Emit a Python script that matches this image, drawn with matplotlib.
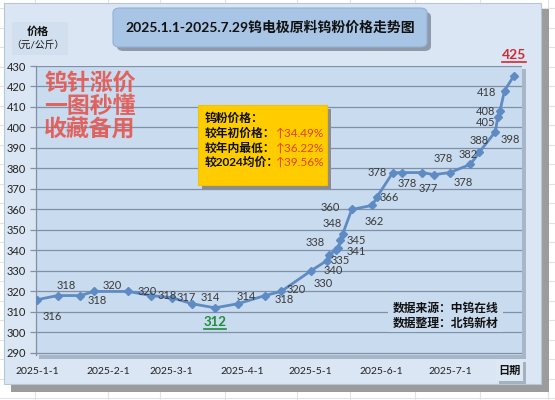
import numpy as np
import pandas as pd
import matplotlib
matplotlib.use('Agg')
import matplotlib.pyplot as plt
import matplotlib.dates as mdates
from matplotlib.patches import FancyBboxPatch, Rectangle
from matplotlib.lines import Line2D

plt.rcParams['font.family'] = ['Lato', 'Noto Sans CJK SC', 'DejaVu Sans']

# 钨粉价格（元/公斤）
dates = ['2025-01-01', '2025-01-10', '2025-01-20', '2025-01-26', '2025-02-10', '2025-02-20',
         '2025-03-01', '2025-03-10', '2025-03-20', '2025-03-30', '2025-04-11', '2025-04-18',
         '2025-05-01', '2025-05-08', '2025-05-09', '2025-05-12', '2025-05-13', '2025-05-14',
         '2025-05-15', '2025-05-19', '2025-05-28', '2025-05-30', '2025-06-06', '2025-06-10',
         '2025-06-19', '2025-06-24', '2025-07-01', '2025-07-10', '2025-07-14', '2025-07-21',
         '2025-07-22', '2025-07-23', '2025-07-25', '2025-07-29']
prices = [316, 318, 318, 320, 320, 318, 317, 314, 312, 314, 318, 320,
          330, 335, 338, 340, 341, 345, 348, 360, 362, 366, 378, 378,
          378, 377, 378, 382, 388, 398, 405, 408, 418, 425]

month_ticks = ['2025-01-01', '2025-02-01', '2025-03-01', '2025-04-01',
               '2025-05-01', '2025-06-01', '2025-07-01']
month_labels = ['2025-1-1', '2025-2-1', '2025-3-1', '2025-4-1',
                '2025-5-1', '2025-6-1', '2025-7-1']

title = '2025.1.1-2025.7.29钨电极原料钨粉价格走势图'
stat_names = ['较年初价格：', '较年内最低：', '较2024均价：']
stat_values = ['↑34.49%', '↑36.22%', '↑39.56%']

# label offsets in pixels (dx right, dy down)
label_off = [(15, 17), (9, -10), (17, 5), (18, -6), (19, 0), (16, 0),
             (15, 0), (18, -6), (0, 14), (8, -7), (19, 4), (15, -2),
             (12, 13), (14, 0), (-14, -12), (-3, 20), (18, 3), (16, 0),
             (-10, -11), (-22, -2), (2, 16), (12, 0), (-16, 0), (5, 11),
             (21, -14), (-6, 14), (13, 10), (-2, -10), (0, -12), (15, 8),
             (-12, 5), (-14, 0), (-18, 2), (0, -21)]

W, H = 555, 400
fig = plt.figure(figsize=(W / 100, H / 100), dpi=100)
fig.patch.set_facecolor('white')


def fx(x):
    return x / W


def fy(y):
    return 1 - y / H


def box(x0, y0, x1, y1, fc, ec='none', z=0, lw=0.8, rs=0.0):
    style = 'square,pad=0' if rs == 0 else 'round,pad=0,rounding_size=%g' % rs
    p = FancyBboxPatch((fx(x0), fy(y1)), fx(x1) - fx(x0), fy(y0) - fy(y1),
                       boxstyle=style, transform=fig.transFigure,
                       fc=fc, ec=ec, lw=lw, zorder=z)
    fig.add_artist(p)
    return p


# spreadsheet cells behind the chart
for yy in np.arange(8, H, 19.5):
    fig.add_artist(Line2D([0, 1], [fy(yy)] * 2, transform=fig.transFigure,
                          color='#e2e2e2', lw=0.8, zorder=-5))
for xx in [35, 108, 160, 225, 297, 350, 415, 480, 548]:
    fig.add_artist(Line2D([fx(xx)] * 2, [0, 1], transform=fig.transFigure,
                          color='#e2e2e2', lw=0.8, zorder=-5))

# chart panel with drop shadow
box(11, 9, 549, 392, '#9c9c9c', z=-4)
box(4, 3, 541, 384, '#dae6f3', ec='#b8c6d6', z=-3)

# plot area shadow
box(39, 69, 526, 359, '#a7b6c8', z=-2)

ax = fig.add_axes([fx(36), fy(355), fx(522) - fx(36), fy(66) - fy(355)])
ax.set_facecolor('#c9dbef')
ax.set_zorder(1)

x = pd.to_datetime(dates)
ax.plot(x, prices, color='#5f8bc4', lw=2, marker='D', markersize=4,
        markerfacecolor='#5f8bc4', markeredgecolor='#5f8bc4', zorder=3)

ax.set_ylim(289, 430)
ax.set_xlim(pd.Timestamp('2024-12-31 12:00'), pd.Timestamp('2025-08-01 16:00'))
ax.set_yticks(np.arange(290, 431, 10))
ax.set_xticks(pd.to_datetime(month_ticks))
ax.set_xticklabels(month_labels)
ax.tick_params(axis='x', length=0, pad=9, labelsize=7.5, colors='#222222')
ax.tick_params(axis='y', length=4, width=0.9, color='#8190a6', pad=3,
               labelsize=8, labelcolor='#222222')
ax.grid(axis='y', color='#8190a6', lw=0.9)
ax.set_axisbelow(True)
for side in ['top', 'right', 'bottom']:
    ax.spines[side].set_visible(False)
ax.spines['left'].set_color('#8190a6')
ax.spines['left'].set_linewidth(0.9)

special = {8: ('#1e8c3a', 9.5), 33: ('#d7282f', 10)}
specials = []
for i, (d, v) in enumerate(zip(x, prices)):
    dx, dy = label_off[i]
    if i in special:
        c, fs = special[i]
        t = ax.annotate(str(v), (d, v), xytext=(dx, -dy), textcoords='offset pixels',
                        ha='center', va='center', fontsize=fs, color=c,
                        fontweight='bold', zorder=5)
        specials.append((t, c))
    else:
        ax.annotate(str(v), (d, v), xytext=(dx, -dy), textcoords='offset pixels',
                    ha='center', va='center', fontsize=8, color='#3a3a3a', zorder=5)

# title box
box(117, 12, 431, 51, '#8f9aa8', z=2, rs=0.012)
box(113, 8, 427, 47, '#a9c5e6', ec='#93b0d4', z=2, rs=0.012)
fig.text(fx(270), fy(27.5), title, ha='center', va='center', fontsize=10,
         fontweight='bold', color='#111111', zorder=3)

# y axis caption
box(12, 22, 68, 55, '#d2dfee', z=-2)
fig.text(fx(38), fy(31), '价格', ha='center', va='center', fontsize=8,
         fontweight='bold', color='#111111')
fig.text(fx(38), fy(45), '（元/公斤）', ha='center', va='center', fontsize=7,
         color='#111111')

# red banner text
for k, line in enumerate(['钨针涨价', '一图秒懂', '收藏备用']):
    fig.text(fx(44), fy(83 + 23.5 * k), line, ha='left', va='center',
             fontsize=16.5, fontweight='bold', color='#e5554e', alpha=0.9, zorder=4)

# yellow summary box
box(202, 109, 331, 189, '#8c8c8c', z=4)
box(198, 105, 327, 185, '#ffcc00', ec='#f2c200', z=4)
fig.text(fx(205), fy(118), '钨粉价格：', ha='left', va='center', fontsize=8.5,
         fontweight='bold', color='#111111', zorder=5)
for k in range(3):
    yy = 133 + 14.7 * k
    fig.text(fx(205), fy(yy), stat_names[k], ha='left', va='center', fontsize=8.5,
             fontweight='bold', color='#111111', zorder=5)
    fig.text(fx(276), fy(yy), stat_values[k], ha='left', va='center', fontsize=8.5,
             color='#e0400e', zorder=5)

# data source note
box(388, 299, 503, 332, '#c9dbef', z=4)
fig.text(fx(393), fy(308), '数据来源：中钨在线', ha='left', va='center', fontsize=8.5,
         fontweight='bold', color='#111111', zorder=5)
fig.text(fx(393), fy(323), '数据整理：北钨新材', ha='left', va='center', fontsize=8.5,
         fontweight='bold', color='#111111', zorder=5)

# x axis caption
box(499, 362, 526, 384, '#a4b1c0', z=2)
box(496, 359, 523, 381, '#dde8f5', z=2)
fig.text(fx(509.5), fy(370), '日期', ha='center', va='center', fontsize=8,
         fontweight='bold', color='#111111', zorder=3)

# underline the low and latest prices
fig.canvas.draw()
for t, c in specials:
    bb = t.get_window_extent()
    yb = bb.y0 - 1
    fig.add_artist(Line2D([bb.x0 / W, bb.x1 / W], [yb / H, yb / H],
                          transform=fig.transFigure, color=c, lw=1.2, zorder=6))

fig.savefig('out.png', dpi=100)
